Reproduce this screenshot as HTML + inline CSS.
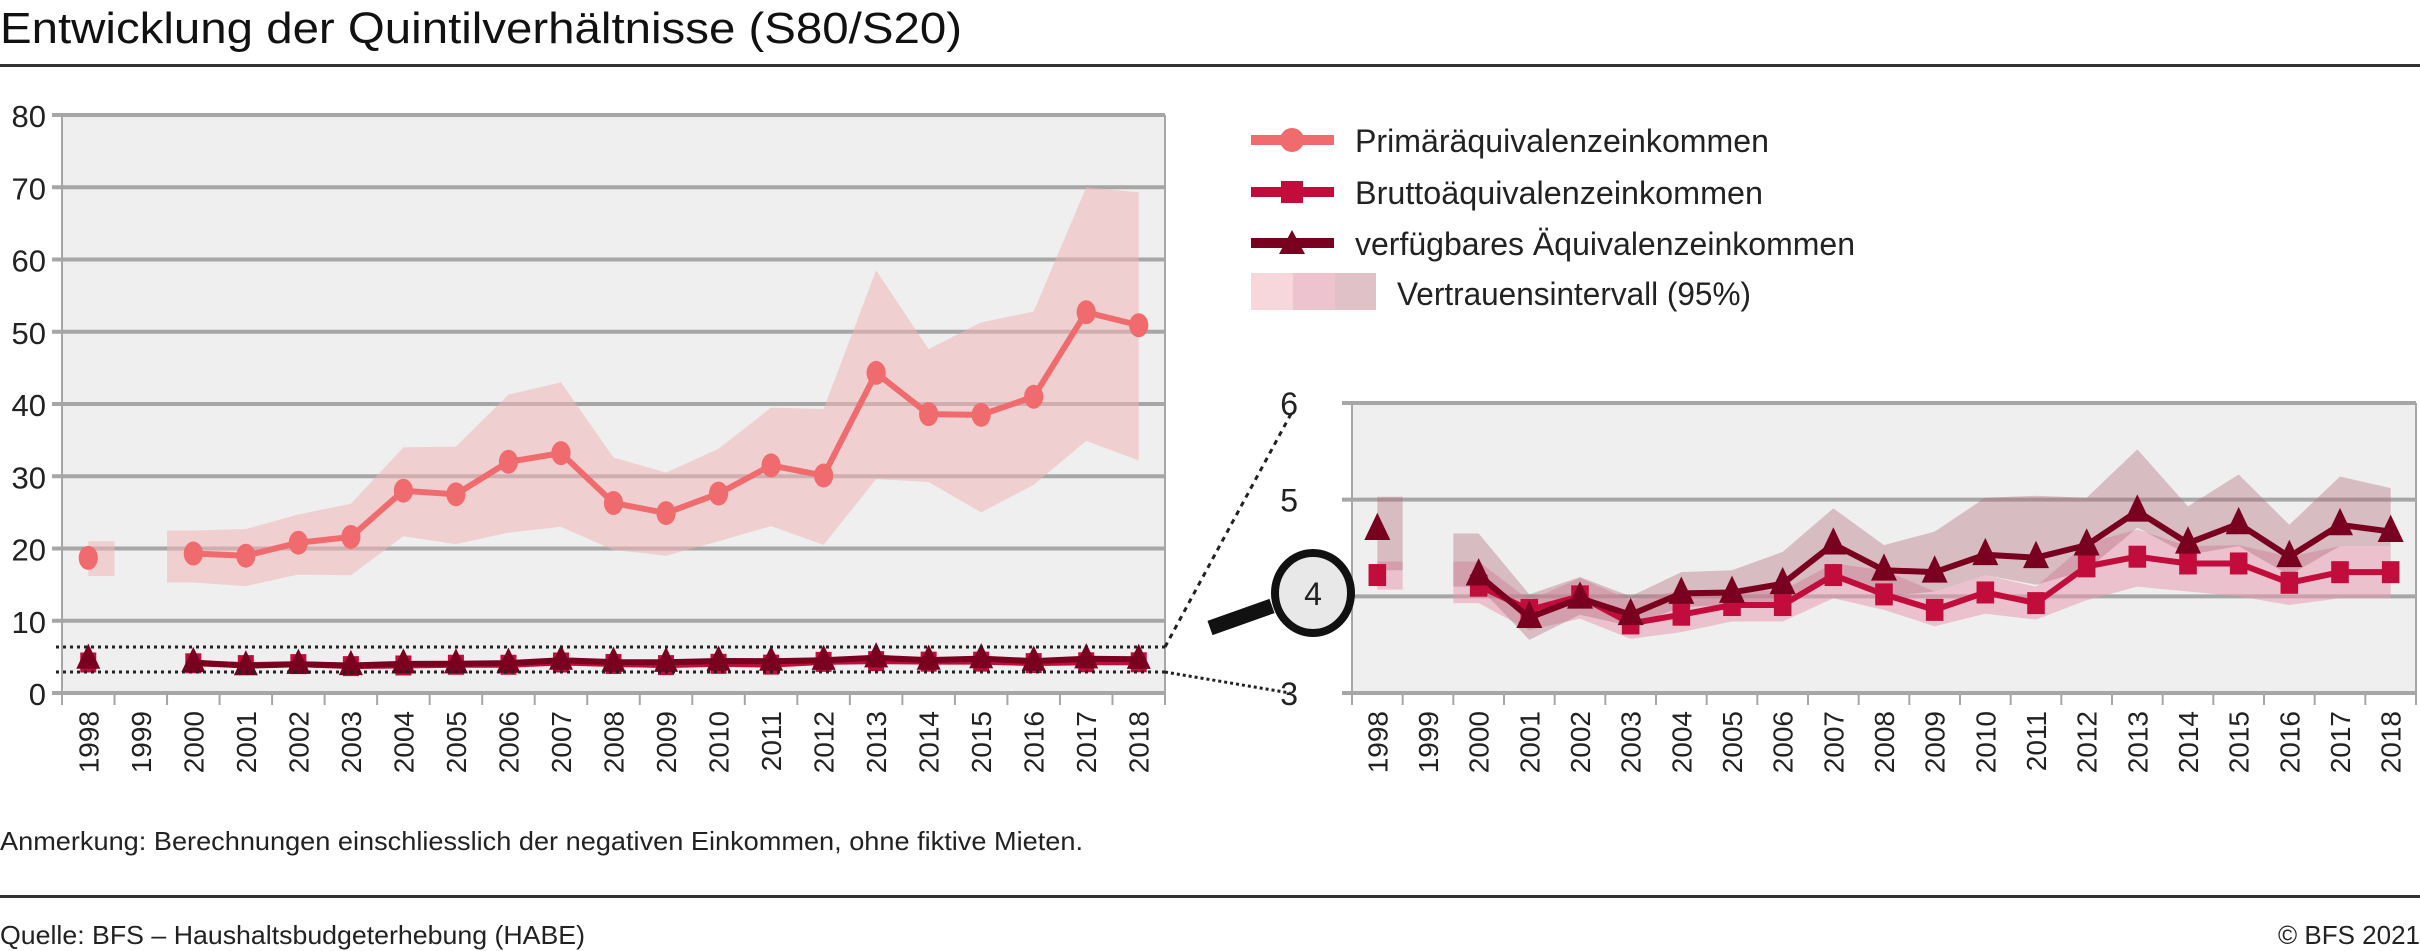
<!DOCTYPE html>
<html><head><meta charset="utf-8"><style>
body{margin:0;background:#fff;}
svg{display:block;font-family:"Liberation Sans",sans-serif;}
</style></head><body>
<svg id="c" width="2420" height="951" viewBox="0 0 2420 951" xmlns="http://www.w3.org/2000/svg">
<text x="0" y="43" font-size="44" fill="#111" textLength="962" lengthAdjust="spacingAndGlyphs">Entwicklung der Quintilverhältnisse (S80/S20)</text>
<rect x="0" y="64" width="2420" height="3" fill="#333"/>
<g id="left"></g>
<g id="right"></g>
<g>
 <g>
  <rect x="1251" y="135" width="83" height="10" fill="#ef6b6e"/><ellipse cx="1292" cy="140" rx="12" ry="12" fill="#ef6b6e"/>
  <text x="1355" y="152" font-size="32" fill="#222" textLength="414" lengthAdjust="spacingAndGlyphs">Primäräquivalenzeinkommen</text></g>
 <g>
  <rect x="1251" y="187" width="83" height="10" fill="#c20c3c"/><rect x="1281" y="181" width="22" height="22" fill="#c20c3c"/>
  <text x="1355" y="204" font-size="32" fill="#222" textLength="408" lengthAdjust="spacingAndGlyphs">Bruttoäquivalenzeinkommen</text></g>
 <g>
  <rect x="1251" y="238" width="83" height="10" fill="#7a0020"/><polygon points="1292,230 1305,254 1279,254" fill="#7a0020"/>
  <text x="1355" y="255" font-size="32" fill="#222" textLength="500" lengthAdjust="spacingAndGlyphs">verfügbares Äquivalenzeinkommen</text></g>
 <g>
  <rect x="1251" y="273" width="42" height="37" fill="#f8d7dc"/><rect x="1293" y="273" width="42" height="37" fill="#ecc3cf"/><rect x="1335" y="273" width="41" height="37" fill="#dfc1c7"/>
  <text x="1397" y="305" font-size="32" fill="#222" textLength="354" lengthAdjust="spacingAndGlyphs">Vertrauensintervall (95%)</text></g>
</g>
<text x="0" y="850" font-size="26" fill="#222" textLength="1083" lengthAdjust="spacingAndGlyphs">Anmerkung: Berechnungen einschliesslich der negativen Einkommen, ohne fiktive Mieten.</text>
<rect x="0" y="895" width="2420" height="3" fill="#333"/>
<text x="0" y="944" font-size="26" fill="#222" textLength="585" lengthAdjust="spacingAndGlyphs">Quelle: BFS – Haushaltsbudgeterhebung (HABE)</text>
<text x="2420" y="944" font-size="26" fill="#222" text-anchor="end">© BFS 2021</text>
</svg>
<script>
const years=[1998,1999,2000,2001,2002,2003,2004,2005,2006,2007,2008,2009,2010,2011,2012,2013,2014,2015,2016,2017,2018];
const primary=[18.7,null,19.3,19.0,20.8,21.6,28.0,27.5,32.0,33.2,26.3,24.9,27.6,31.5,30.1,44.3,38.6,38.5,41.0,52.7,50.9];
const primaryLow=[16.2,null,15.3,14.8,16.4,16.3,21.7,20.6,22.2,23.0,19.8,19.0,21.0,23.1,20.5,29.6,29.2,25.0,28.8,34.9,32.2];
const primaryHigh=[21.0,null,22.5,22.7,24.7,26.2,34.0,34.1,41.3,43.0,32.6,30.5,33.8,39.5,39.3,58.5,47.6,51.3,52.8,70.0,69.3];
const brutto=[4.22,null,4.11,3.86,4.0,3.72,3.81,3.91,3.91,4.22,4.02,3.86,4.04,3.93,4.31,4.41,4.34,4.34,4.14,4.25,4.25];
const bruttoLow=[4.07,null,3.93,3.65,3.77,3.56,3.63,3.74,3.74,3.98,3.86,3.69,3.82,3.76,3.96,4.1,4.05,4.0,3.91,3.98,3.98];
const bruttoHigh=[4.36,null,4.36,3.96,4.19,3.96,4.06,4.06,4.06,4.34,4.27,4.05,4.22,4.1,4.55,4.69,4.52,4.53,4.41,4.52,4.52];
const verf=[4.69,null,4.22,3.78,3.98,3.81,4.03,4.04,4.13,4.54,4.27,4.25,4.43,4.40,4.53,4.88,4.55,4.75,4.41,4.74,4.67];
const verfLow=[4.27,null,4.1,3.55,3.81,3.69,3.89,3.91,3.93,4.2,4.0,4.05,4.22,4.12,4.27,4.71,4.43,4.52,4.22,4.52,4.52];
const verfHigh=[5.03,null,4.65,4.02,4.2,4.0,4.25,4.27,4.46,4.91,4.53,4.67,5.02,5.04,5.02,5.52,4.93,5.26,4.74,5.24,5.12];
const leftTicks=[0,10,20,30,40,50,60,70,80];
const rightTicks=[3,4,5,6];

const NS="http://www.w3.org/2000/svg";
function mk(p,tag,a){const e=document.createElementNS(NS,tag);for(const k in a)e.setAttribute(k,a[k]);p.appendChild(e);return e;}

function chart(g,x0,x1,yb,yt,vmin,vmax,ticks,series,opts){
  const bw=(x1-x0)/years.length;
  const X=i=>x0+(i+0.5)*bw;
  const Y=v=>yb-(v-vmin)/(vmax-vmin)*(yb-yt);
  const bg=mk(g,'rect',{x:x0,y:yt,width:x1-x0,height:yb-yt,fill:'#efefef'});
  
  
  mk(g,'line',{x1:x0,y1:yt,x2:x0,y2:yb,stroke:'#a6a6a6','stroke-width':2});
  mk(g,'line',{x1:x1,y1:yt,x2:x1,y2:yb,stroke:'#a6a6a6','stroke-width':2});
  ticks.forEach(t=>{
    const l=mk(g,'line',{x1:x0-10,y1:Y(t),x2:x1,y2:Y(t),stroke:'#a6a6a6','stroke-width':4});
    
    
    const tx=mk(g,'text',{x:opts.labelX,y:Y(t)+12,'font-size':opts.tickSize,fill:'#222','text-anchor':'end'});
    tx.textContent=t;
    
    
  });
  years.forEach((yr,i)=>{
    mk(g,'line',{x1:x0+i*bw,y1:yb,x2:x0+i*bw,y2:yb+12,stroke:'#a6a6a6','stroke-width':2});
    const t=mk(g,'text',{x:0,y:0,'font-size':28,fill:'#222','text-anchor':'end',transform:`translate(${X(i)+10},${yb+18}) rotate(-90)`});
    t.textContent=yr;
    
    
  });
  mk(g,'line',{x1:x0+(years.length)*bw,y1:yb,x2:x0+(years.length)*bw,y2:yb+12,stroke:'#a6a6a6','stroke-width':2});
  series.forEach(s=>{
    if(!s.low) return;
    let segs=[],cur=[];
    years.forEach((_,i)=>{ if(s.low[i]==null){if(cur.length)segs.push(cur);cur=[];} else cur.push(i);});
    if(cur.length)segs.push(cur);
    segs.forEach(seg=>{
      let xs=seg.map(X),lo=seg.map(i=>s.low[i]),hi=seg.map(i=>s.high[i]);
      if(seg.length===1){xs=[xs[0],xs[0]+bw/2];lo=[lo[0],lo[0]];hi=[hi[0],hi[0]];}
      else{xs.unshift(xs[0]-bw/2);lo.unshift(lo[0]);hi.unshift(hi[0]);}
      const pts=xs.map((x,k)=>x+','+Y(hi[k])).concat(xs.map((x,k)=>x+','+Y(lo[k])).reverse());
      const p=mk(g,'polygon',{points:pts.join(' '),fill:s.band,'fill-opacity':s.bandOp});
      
      
    });
  });
  series.forEach(s=>{
    let segs=[],cur=[];
    years.forEach((_,i)=>{ if(s.vals[i]==null){if(cur.length)segs.push(cur);cur=[];} else cur.push(i);});
    if(cur.length)segs.push(cur);
    segs.forEach(seg=>{ if(seg.length>1){
      const l=mk(g,'polyline',{points:seg.map(i=>X(i)+','+Y(s.vals[i])).join(' '),fill:'none',stroke:s.color,'stroke-width':6,'stroke-linejoin':'round'});
      
      
    }});
    years.forEach((_,i)=>{
      const v=s.vals[i]; if(v==null) return;
      const x=X(i),y=Y(v),r=s.size; let m;
      if(s.marker==='circle') m=mk(g,'ellipse',{cx:x,cy:y,rx:r*0.8,ry:r,fill:s.color});
      else if(s.marker==='square') m=mk(g,'rect',{x:x-r*0.8,y:y-r,width:r*1.6,height:r*2,fill:s.color});
      else m=mk(g,'polygon',{points:`${x},${y-r*1.3} ${x+r},${y+r*0.8} ${x-r},${y+r*0.8}`,fill:s.color});
      
      
    });
  });
  return {X,Y,bw};
}
const L=document.getElementById('left'),R=document.getElementById('right');
chart(L,62,1165,693,115,0,80,leftTicks,[
 {vals:primary,low:primaryLow,high:primaryHigh,color:'#ef6b6e',band:'#f0b4b8',bandOp:0.55,marker:'circle',size:12},
 {vals:brutto,color:'#c20c3c',marker:'square',size:10},
 {vals:verf,color:'#7a0020',marker:'triangle',size:12}
],{labelX:46,tickSize:31});
chart(R,1352,2416,693,403,3,6,rightTicks,[
 {vals:brutto,low:bruttoLow,high:bruttoHigh,color:'#c20c3c',band:'#e79ab0',bandOp:0.55,marker:'square',size:11},
 {vals:verf,low:verfLow,high:verfHigh,color:'#7a0020',band:'#b06878',bandOp:0.38,marker:'triangle',size:13}
],{labelX:1298,tickSize:32});
const Z=document.getElementById('c');
const zg=mk(Z,'g',{});


mk(zg,'line',{x1:56,y1:647,x2:1165,y2:647,stroke:'#222','stroke-width':3,'stroke-dasharray':'3,4'});
mk(zg,'line',{x1:56,y1:672,x2:1165,y2:672,stroke:'#222','stroke-width':3,'stroke-dasharray':'3,4'});
mk(zg,'line',{x1:1165,y1:647,x2:1292,y2:412,stroke:'#222','stroke-width':3,'stroke-dasharray':'5,5'});
mk(zg,'line',{x1:1165,y1:672,x2:1290,y2:693,stroke:'#222','stroke-width':3,'stroke-dasharray':'3,3'});
const mg=mk(Z,'g',{});


mk(mg,'line',{x1:1210,y1:628,x2:1272,y2:606,stroke:'#111','stroke-width':15});
mk(mg,'ellipse',{cx:1313,cy:593,rx:38,ry:40,fill:'#e8e8e8',stroke:'#111','stroke-width':8});
const t4=mk(mg,'text',{x:1313,y:605,'font-size':32,'text-anchor':'middle',fill:'#222'});
t4.textContent='4';
</script>
</body></html>
